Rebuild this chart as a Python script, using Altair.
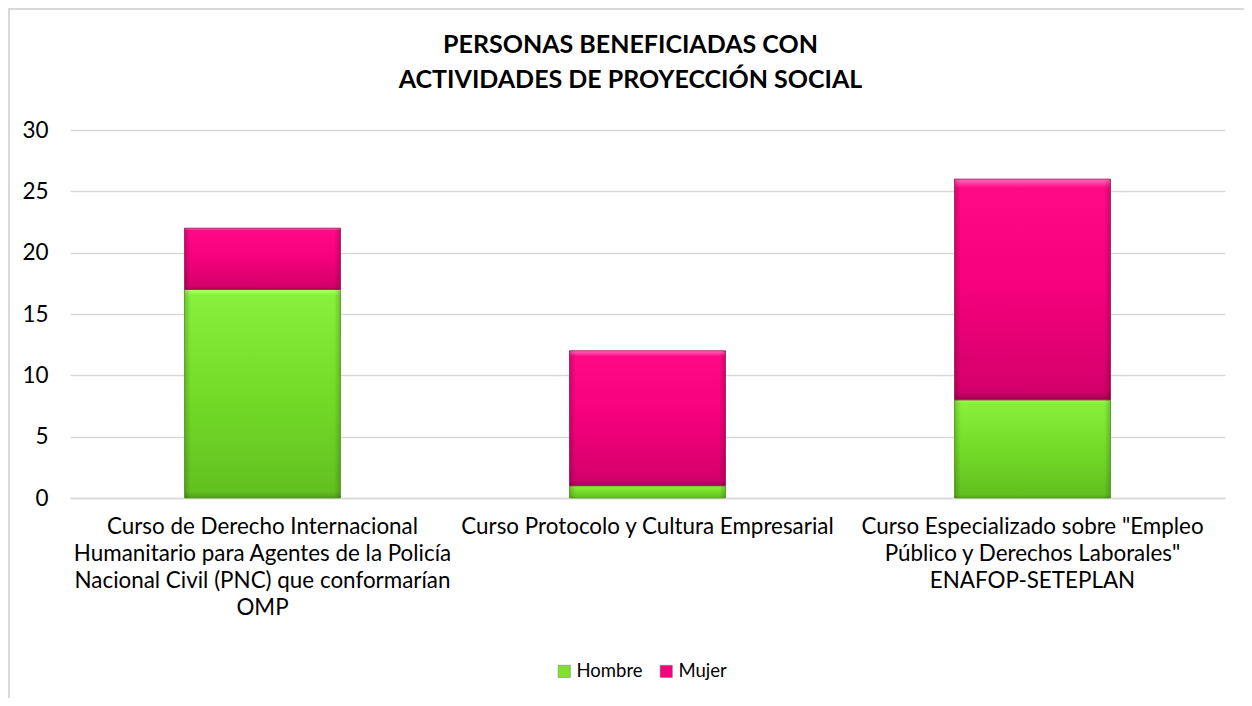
import altair as alt
import pandas as pd

categories = [
    "Curso de Derecho Internacional|Humanitario para Agentes de la Policía|Nacional Civil (PNC) que conformarían|OMP",
    "Curso Protocolo y Cultura Empresarial",
    "Curso Especializado sobre \"Empleo|Público y Derechos Laborales\"|ENAFOP-SETEPLAN",
]
series = ["Hombre", "Mujer"]
hombre = [17, 1, 8]
mujer = [5, 11, 18]
colors = ["#7ee22e", "#f0047f"]
title_lines = ["PERSONAS BENEFICIADAS CON", "ACTIVIDADES DE PROYECCIÓN SOCIAL"]

rows = []
for i, c in enumerate(categories):
    rows.append({"Curso": c, "Genero": "Hombre", "Valor": hombre[i], "orden": 0})
    rows.append({"Curso": c, "Genero": "Mujer", "Valor": mujer[i], "orden": 1})
df = pd.DataFrame(rows)

FONT = "Lato"

xenc = alt.X(
    "Curso:N", sort=categories, title=None,
    scale=alt.Scale(paddingInner=0.595, paddingOuter=0.2975),
    axis=alt.Axis(labelExpr="split(datum.label, '|')", labelAngle=0, labelFontSize=22.4,
                  labelLineHeight=27, labelPadding=17, labelColor="#000000", ticks=False,
                  domainColor="#d9d9d9", domainWidth=1.5, labelFont=FONT, labelLimit=420),
)
yenc_scale = alt.Scale(domain=[0, 30])

base = alt.Chart(df).transform_stack(
    stack="Valor", groupby=["Curso"], as_=["y0", "y1"], sort=[alt.SortField("orden", order="ascending")]
)

legend_layer = base.mark_bar().encode(
    x=xenc,
    y=alt.Y("y0:Q", scale=yenc_scale, title=None,
            axis=alt.Axis(values=[0, 5, 10, 15, 20, 25, 30], labelFontSize=22.5, labelColor="#000000",
                          ticks=False, domain=False, gridColor="#d9d9d9", gridWidth=1.5,
                          labelPadding=22, labelFont=FONT)),
    y2="y1:Q",
    color=alt.Color("Genero:N", scale=alt.Scale(domain=series, range=colors),
                    legend=alt.Legend(title=None, orient="none", legendX=485, legendY=532,
                                      direction="horizontal", symbolType="square", symbolSize=150,
                                      labelFontSize=18.5, labelFont=FONT, labelColor="#000000",
                                      columnPadding=14, labelOffset=3,
                                      symbolStrokeColor="#777777", symbolStrokeWidth=0.5)),
)

green_grad = alt.Gradient(gradient="linear", x1=0, y1=0, x2=0, y2=1, stops=[
    alt.GradientStop(color="#b4ff6e", offset=0),
    alt.GradientStop(color="#86f03a", offset=0.03),
    alt.GradientStop(color="#74dc28", offset=0.5),
    alt.GradientStop(color="#62c020", offset=0.97),
    alt.GradientStop(color="#4e9c18", offset=1),
])
pink_grad = alt.Gradient(gradient="linear", x1=0, y1=0, x2=0, y2=1, stops=[
    alt.GradientStop(color="#ff6cbc", offset=0),
    alt.GradientStop(color="#ff0a86", offset=0.04),
    alt.GradientStop(color="#f5007d", offset=0.5),
    alt.GradientStop(color="#d4006a", offset=0.96),
    alt.GradientStop(color="#a00050", offset=1),
])
side_grad = alt.Gradient(gradient="linear", x1=0, y1=0, x2=1, y2=0, stops=[
    alt.GradientStop(color="rgba(0,0,0,0.18)", offset=0),
    alt.GradientStop(color="rgba(0,0,0,0)", offset=0.04),
    alt.GradientStop(color="rgba(0,0,0,0)", offset=0.96),
    alt.GradientStop(color="rgba(0,0,0,0.18)", offset=1),
])

def grad_layer(name, grad, stroke):
    return base.transform_filter(alt.datum.Genero == name).mark_bar(
        fill=grad, stroke=stroke, strokeWidth=0.8
    ).encode(x=xenc, y=alt.Y("y0:Q", scale=yenc_scale), y2="y1:Q")

green_layer = grad_layer("Hombre", green_grad, "#5a9e22")
pink_layer = grad_layer("Mujer", pink_grad, "#a8225e")
side_layer = base.mark_bar(fill=side_grad).encode(x=xenc, y=alt.Y("y0:Q", scale=yenc_scale), y2="y1:Q")

frame_v = alt.Chart(pd.DataFrame({"a": [0]})).mark_rule(color="#d9d9d9", strokeWidth=2).encode(
    x=alt.value(-61), y=alt.value(-122), y2=alt.value(580))
frame_h = alt.Chart(pd.DataFrame({"a": [0]})).mark_rule(color="#d9d9d9", strokeWidth=2).encode(
    x=alt.value(-62), x2=alt.value(1180), y=alt.value(-121))

chart = alt.layer(legend_layer, green_layer, pink_layer, side_layer, frame_v, frame_h).properties(
    width=1155, height=368,
    title=alt.Title(title_lines, fontSize=25, font=FONT, fontWeight="bold", color="#000000",
                    anchor="middle", dx=-17, offset=-86, lineHeight=35),
    autosize=alt.AutoSizeParams(type="none"),
    padding={"left": 62, "top": 122, "right": 19, "bottom": 200},
    background="#ffffff",
).configure_view(stroke=None)

chart.save("out.html", embed_options={"renderer": "svg", "actions": False})
